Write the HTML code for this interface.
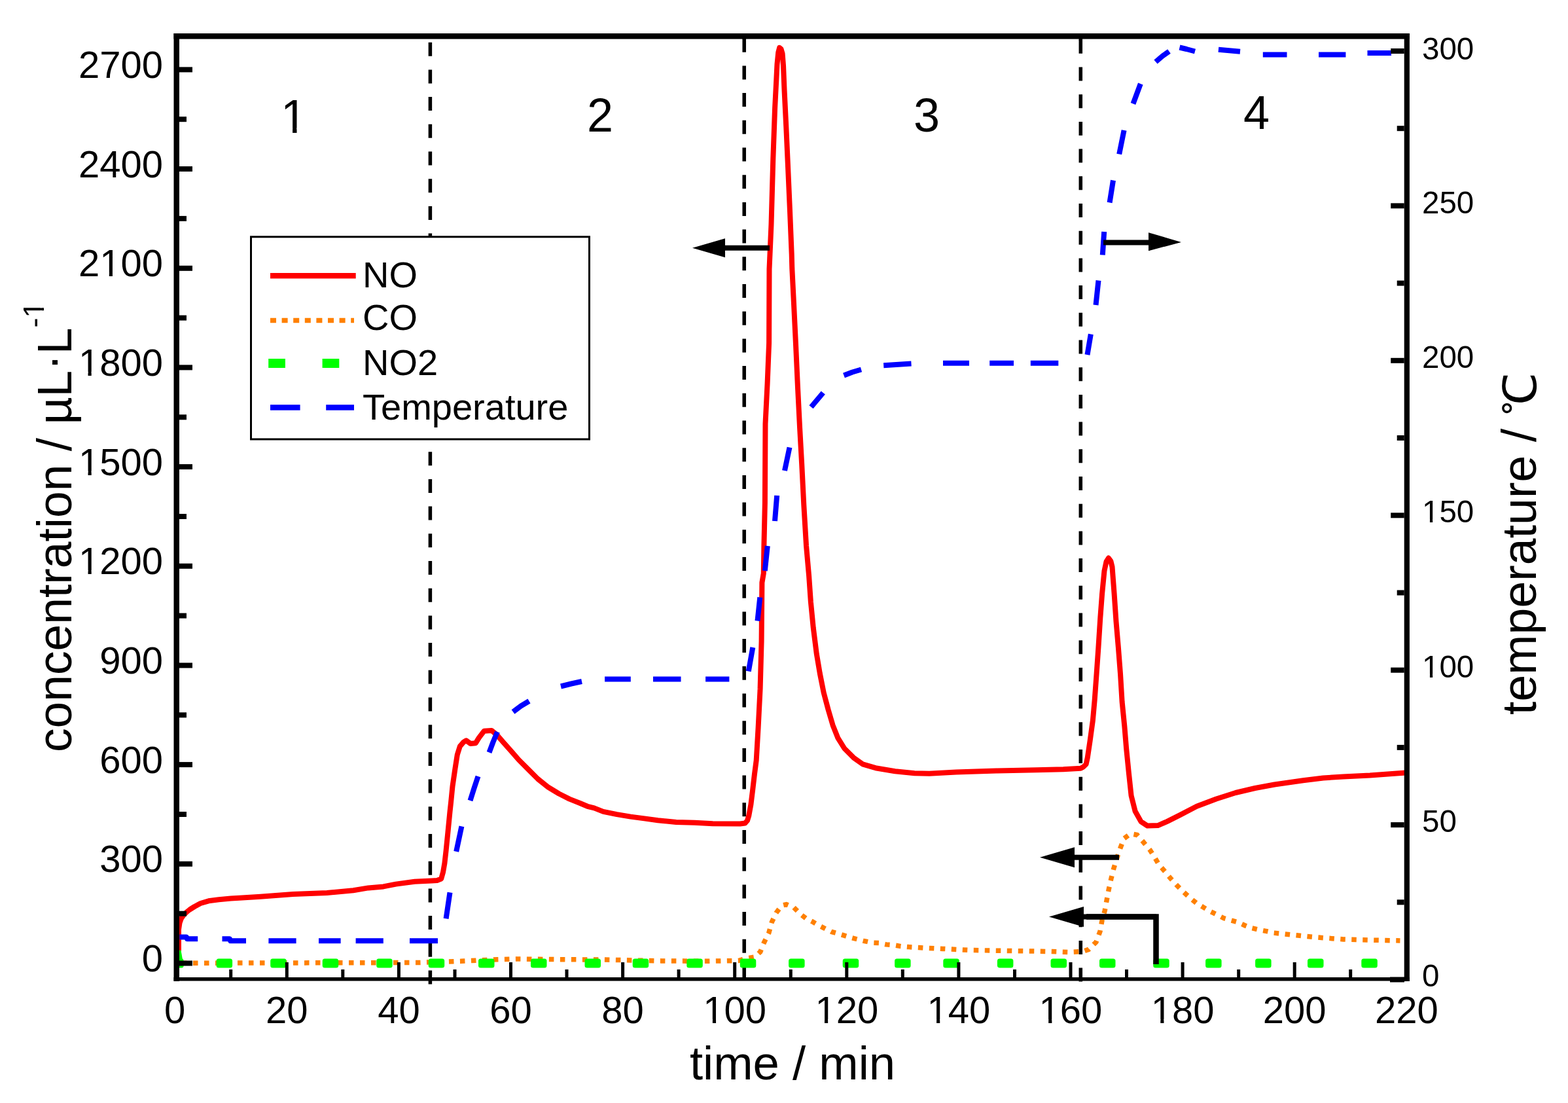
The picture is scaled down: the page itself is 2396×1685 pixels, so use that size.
<!DOCTYPE html><html><head><meta charset="utf-8"><title>NO CO NO2 temperature vs time</title>
<style>html,body{margin:0;padding:0;background:#fff;overflow:hidden}svg{display:block}text{font-family:'Liberation Sans', sans-serif;fill:#000}</style></head><body>
<svg width="2396" height="1685" viewBox="0 0 2396 1685">
<rect x="0" y="0" width="2396" height="1685" fill="#fff"/>
<line x1="657.4" y1="64.7" x2="657.4" y2="1504" stroke="#000" stroke-width="5.5" stroke-dasharray="21 20.7" stroke-dashoffset="0"/>
<line x1="1137.2" y1="58.7" x2="1137.2" y2="1504" stroke="#000" stroke-width="5.5" stroke-dasharray="21 20.7" stroke-dashoffset="0"/>
<line x1="1137.2" y1="56" x2="1137.2" y2="59.7" stroke="#000" stroke-width="5.5"/>
<line x1="1651.3" y1="60.8" x2="1651.3" y2="1504" stroke="#000" stroke-width="5.5" stroke-dasharray="21 20.7" stroke-dashoffset="0"/>
<line x1="1651.3" y1="56" x2="1651.3" y2="61.8" stroke="#000" stroke-width="5.5"/>
<polyline points="273.0,1453.0 273.0,1420.0 274.5,1410.0 277.0,1403.0 280.5,1398.0 285.0,1393.5 290.0,1389.5 297.2,1385.0 306.4,1380.0 318.8,1376.3 334.3,1374.2 352.9,1372.4 370.0,1371.5 398.0,1369.8 447.8,1366.0 499.6,1364.0 539.8,1360.2 562.8,1356.4 585.8,1354.4 605.0,1350.6 633.7,1346.8 660.0,1345.5 668.0,1345.0 674.2,1342.5 677.1,1332.1 679.4,1318.7 681.6,1299.4 684.6,1269.7 687.5,1240.0 689.1,1225.4 691.5,1201.2 695.5,1173.9 698.8,1152.9 702.8,1140.1 708.4,1133.6 712.4,1131.2 718.9,1136.0 726.9,1135.2 731.8,1127.2 739.8,1116.7 751.1,1115.9 759.1,1122.4 768.8,1133.6 781.7,1148.1 792.9,1161.0 809.0,1177.1 821.9,1190.0 838.0,1202.8 854.1,1212.5 870.2,1220.6 886.3,1227.0 897.6,1231.8 907.9,1234.4 921.8,1239.9 942.7,1244.1 963.6,1247.6 984.5,1250.4 1005.4,1253.2 1033.3,1256.0 1061.2,1256.7 1089.1,1258.3 1130.9,1258.5 1138.6,1257.5 1142.0,1253.5 1144.3,1246.0 1147.4,1229.0 1150.3,1205.5 1152.9,1183.0 1155.7,1161.4 1158.6,1111.8 1161.6,1052.4 1163.6,979.1 1164.4,890.0 1166.8,876.0 1167.4,833.3 1168.9,768.3 1169.5,647.6 1172.6,585.7 1175.1,523.8 1175.5,411.0 1178.5,343.0 1181.3,243.0 1184.1,165.0 1186.3,122.0 1187.5,98.0 1189.3,80.0 1191.2,72.8 1193.5,75.0 1195.6,82.0 1197.0,100.0 1198.5,137.0 1201.3,194.0 1204.1,256.0 1207.0,322.0 1209.7,388.0 1210.3,410.0 1212.9,461.9 1215.9,523.8 1219.0,591.9 1222.1,653.8 1225.2,709.5 1228.3,771.4 1232.0,833.3 1236.1,879.7 1238.9,919.6 1242.8,959.3 1247.8,998.9 1252.8,1028.6 1258.7,1058.3 1265.6,1084.1 1272.6,1107.9 1280.5,1127.7 1290.4,1143.5 1304.3,1157.4 1318.1,1167.3 1337.9,1173.2 1367.7,1178.2 1397.4,1181.2 1420.0,1181.8 1461.3,1179.6 1522.6,1177.6 1583.9,1176.2 1624.8,1175.3 1651.4,1173.8 1655.5,1171.5 1659.6,1167.5 1661.8,1157.4 1665.6,1131.8 1669.9,1100.5 1672.7,1069.1 1675.6,1029.3 1678.4,989.4 1681.3,943.9 1684.1,906.9 1687.5,872.0 1690.5,858.0 1694.0,852.5 1697.3,857.0 1699.5,866.0 1702.6,906.9 1705.5,949.6 1708.9,989.4 1712.0,1029.3 1714.6,1072.0 1718.3,1109.0 1721.1,1143.2 1724.8,1180.2 1728.6,1215.5 1734.6,1239.3 1743.5,1255.1 1753.4,1261.6 1769.3,1261.1 1783.1,1255.1 1803.0,1245.2 1828.7,1231.8 1858.5,1220.5 1888.2,1211.0 1917.9,1204.0 1947.6,1198.5 1991.3,1192.3 2021.9,1188.5 2052.5,1186.5 2093.4,1184.5 2134.2,1181.5 2148.0,1180.5" fill="none" stroke="#ff0000" stroke-width="8" stroke-linejoin="round"/>
<polyline points="278.0,1471.3 640.0,1470.5 705.3,1468.3 759.8,1465.7 792.4,1465.0 857.8,1465.7 923.1,1466.1 1010.2,1467.9 1075.5,1468.3 1128.4,1467.5 1142.3,1463.8 1153.4,1462.0 1161.8,1454.0 1167.4,1440.1 1174.8,1425.2 1179.4,1408.5 1186.0,1394.6 1194.3,1383.4 1201.7,1381.6 1212.9,1386.2 1223.1,1396.4 1231.5,1402.9 1240.8,1407.6 1250.0,1413.1 1259.3,1417.8 1270.5,1423.4 1283.5,1427.1 1298.3,1431.7 1308.6,1434.5 1319.7,1437.3 1332.7,1440.1 1342.9,1440.6 1354.1,1442.9 1366.1,1443.8 1376.4,1445.6 1388.4,1446.6 1403.3,1447.5 1415.4,1448.2 1440.9,1449.4 1481.8,1451.5 1543.1,1452.5 1604.4,1453.5 1635.0,1454.5 1655.0,1453.5 1663.6,1450.4 1674.9,1439.2 1681.0,1422.8 1684.1,1405.5 1688.2,1391.2 1691.2,1374.8 1694.3,1358.5 1697.9,1342.3 1701.9,1326.5 1706.8,1310.6 1711.8,1295.8 1717.7,1280.9 1727.7,1273.5 1737.6,1275.5 1747.5,1286.8 1757.4,1298.7 1764.3,1309.6 1771.3,1321.5 1780.2,1331.4 1789.1,1342.3 1798.0,1352.2 1807.9,1362.1 1818.8,1372.0 1828.7,1380.0 1838.6,1385.9 1848.5,1391.9 1858.5,1396.8 1870.3,1402.8 1880.2,1405.7 1891.2,1408.7 1902.1,1413.7 1912.0,1417.6 1924.8,1420.6 1935.7,1422.6 1946.6,1425.1 1981.1,1428.8 2011.7,1431.9 2052.5,1434.9 2093.4,1436.0 2139.4,1437.0" fill="none" stroke="#ff8000" stroke-width="7.5" stroke-dasharray="7.5 9.5"/>
<path d="M273,1452 L275.5,1466" stroke="#00ff00" stroke-width="7" fill="none"/>
<rect x="270" y="1464.4" width="10.5" height="14" rx="3" fill="#00ff00"/>
<rect x="330.6" y="1464.4" width="24.5" height="14" rx="3.5" fill="#00ff00"/>
<rect x="413.2" y="1464.4" width="24.5" height="14" rx="3.5" fill="#00ff00"/>
<rect x="492.7" y="1464.4" width="24.5" height="14" rx="3.5" fill="#00ff00"/>
<rect x="575.2" y="1464.4" width="24.5" height="14" rx="3.5" fill="#00ff00"/>
<rect x="654.7" y="1464.4" width="24.5" height="14" rx="3.5" fill="#00ff00"/>
<rect x="731.0" y="1464.4" width="24.5" height="14" rx="3.5" fill="#00ff00"/>
<rect x="811.0" y="1464.4" width="24.5" height="14" rx="3.5" fill="#00ff00"/>
<rect x="893.5" y="1464.4" width="24.5" height="14" rx="3.5" fill="#00ff00"/>
<rect x="966.7" y="1464.4" width="24.5" height="14" rx="3.5" fill="#00ff00"/>
<rect x="1049.3" y="1464.4" width="24.5" height="14" rx="3.5" fill="#00ff00"/>
<rect x="1130.8" y="1464.4" width="24.5" height="14" rx="3.5" fill="#00ff00"/>
<rect x="1205.1" y="1464.4" width="24.5" height="14" rx="3.5" fill="#00ff00"/>
<rect x="1287.7" y="1464.4" width="24.5" height="14" rx="3.5" fill="#00ff00"/>
<rect x="1367.1" y="1464.4" width="24.5" height="14" rx="3.5" fill="#00ff00"/>
<rect x="1441.3" y="1464.4" width="24.5" height="14" rx="3.5" fill="#00ff00"/>
<rect x="1523.9" y="1464.4" width="24.5" height="14" rx="3.5" fill="#00ff00"/>
<rect x="1605.5" y="1464.4" width="24.5" height="14" rx="3.5" fill="#00ff00"/>
<rect x="1680.0" y="1464.4" width="24.5" height="14" rx="3.5" fill="#00ff00"/>
<rect x="1762.2" y="1464.4" width="24.5" height="14" rx="3.5" fill="#00ff00"/>
<rect x="1842.1" y="1464.4" width="24.5" height="14" rx="3.5" fill="#00ff00"/>
<rect x="1918.1" y="1464.4" width="24.5" height="14" rx="3.5" fill="#00ff00"/>
<rect x="1998.0" y="1464.4" width="24.5" height="14" rx="3.5" fill="#00ff00"/>
<rect x="2080.3" y="1464.4" width="24.5" height="14" rx="3.5" fill="#00ff00"/>
<path d="M274.4,1431.5 L285.0,1431.5 L286.0,1434.3 L302.2,1434.3 M339.5,1434.3 L351.0,1434.3 L352.0,1437.2 L376.0,1437.2 M410.4,1437.2 L452.6,1437.3 M487.0,1437.3 L520.6,1437.3 M543.6,1437.3 L585.8,1437.3 M626.0,1437.3 L669.0,1437.3 M681.6,1403.4 L687.5,1363.3 M697.2,1300.9 L705.4,1262.3 M718.5,1223.0 L724.5,1204.0 L730.5,1186.0 M747.5,1149.5 L753.5,1133.5 L760.0,1118.0 M784.0,1087.5 L796.0,1078.5 L808.5,1071.0 M857.0,1048.5 L873.0,1044.5 L889.0,1041.0 M924.1,1037.6 L963.8,1037.4 M998.0,1037.4 L1040.5,1037.4 M1078.1,1037.4 L1114.4,1037.4 M1143.8,1025.5 L1150.3,989.0 M1157.5,948.5 L1161.3,912.5 M1168.8,872.0 L1172.8,834.0 M1184.0,796.0 L1187.2,757.0 M1199.0,719.0 L1206.5,683.5 M1239.5,621.8 L1257.8,600.0 M1289.5,573.5 L1302.5,568.5 L1316.0,564.5 M1350.2,558.2 L1392.5,555.6 M1441.0,554.8 L1481.0,554.8 M1512.2,554.8 L1549.0,554.8 M1574.8,554.8 L1617.3,554.8 M1661.5,542.0 L1666.8,510.5 M1674.5,466.0 L1678.5,428.5 M1684.8,389.5 L1687.2,354.0 M1695.6,309.5 L1701.0,275.5 M1710.2,235.5 L1717.6,199.0 M1731.5,158.5 L1742.8,128.0 M1766.0,94.5 L1776.5,85.5 L1786.5,78.5 M1802.5,72.5 L1813.0,75.0 L1826.0,78.5 M1861.9,75.8 L1895.0,78.8 M1929.8,83.5 L1966.5,83.5 M2015.0,83.5 L2056.4,83.5 M2089.5,81.1 L2126.0,81.1" fill="none" stroke="#0000ff" stroke-width="8" stroke-linejoin="round"/>
<line x1="1106" y1="378.8" x2="1176" y2="378.8" stroke="#000" stroke-width="8"/>
<polygon points="1058,378.8 1108,364.3 1108,393.3" fill="#000"/>
<line x1="1686" y1="370.4" x2="1757" y2="370.4" stroke="#000" stroke-width="8"/>
<polygon points="1805,370 1755,355.2 1755,383.2" fill="#000"/>
<line x1="1640" y1="1309.7" x2="1710" y2="1309.7" stroke="#000" stroke-width="8"/>
<polygon points="1589,1309.7 1642,1294.2 1642,1325.2" fill="#000"/>
<line x1="1654" y1="1400.5" x2="1767" y2="1400.5" stroke="#000" stroke-width="8"/>
<polygon points="1603,1400.5 1656,1385.0 1656,1416.0" fill="#000"/>
<polyline points="1660,1400.5 1766.5,1400.5 1766.5,1473" fill="none" stroke="#000" stroke-width="8.5"/>
<rect x="265.5" y="51" width="8.5" height="1448" fill="#000"/>
<rect x="265.5" y="51" width="1888.5" height="8.6" fill="#000"/>
<rect x="2145.7" y="51" width="8.2" height="1448" fill="#000"/>
<rect x="265.5" y="1493" width="1888.5" height="5.5" fill="#000"/>
<rect x="274" y="1467.5" width="20" height="8" fill="#000"/>
<rect x="274" y="1391.7" width="11" height="8" fill="#000"/>
<rect x="274" y="1315.8" width="20" height="8" fill="#000"/>
<rect x="274" y="1240.0" width="11" height="8" fill="#000"/>
<rect x="274" y="1164.1" width="20" height="8" fill="#000"/>
<rect x="274" y="1088.3" width="11" height="8" fill="#000"/>
<rect x="274" y="1012.5" width="20" height="8" fill="#000"/>
<rect x="274" y="936.6" width="11" height="8" fill="#000"/>
<rect x="274" y="860.8" width="20" height="8" fill="#000"/>
<rect x="274" y="785.0" width="11" height="8" fill="#000"/>
<rect x="274" y="709.1" width="20" height="8" fill="#000"/>
<rect x="274" y="633.3" width="11" height="8" fill="#000"/>
<rect x="274" y="557.4" width="20" height="8" fill="#000"/>
<rect x="274" y="481.6" width="11" height="8" fill="#000"/>
<rect x="274" y="405.8" width="20" height="8" fill="#000"/>
<rect x="274" y="329.9" width="11" height="8" fill="#000"/>
<rect x="274" y="254.1" width="20" height="8" fill="#000"/>
<rect x="274" y="178.2" width="11" height="8" fill="#000"/>
<rect x="274" y="102.4" width="20" height="8" fill="#000"/>
<rect x="2134.7" y="1374.3" width="11" height="8" fill="#000"/>
<rect x="2125.2" y="1256.1" width="20.5" height="8" fill="#000"/>
<rect x="2134.7" y="1137.9" width="11" height="8" fill="#000"/>
<rect x="2125.2" y="1019.7" width="20.5" height="8" fill="#000"/>
<rect x="2134.7" y="901.5" width="11" height="8" fill="#000"/>
<rect x="2125.2" y="783.3" width="20.5" height="8" fill="#000"/>
<rect x="2134.7" y="665.0" width="11" height="8" fill="#000"/>
<rect x="2125.2" y="546.8" width="20.5" height="8" fill="#000"/>
<rect x="2134.7" y="428.6" width="11" height="8" fill="#000"/>
<rect x="2125.2" y="310.4" width="20.5" height="8" fill="#000"/>
<rect x="2134.7" y="192.2" width="11" height="8" fill="#000"/>
<rect x="2125.2" y="74.0" width="20.5" height="8" fill="#000"/>
<rect x="2124" y="1492.5" width="22" height="8" fill="#000"/>
<rect x="350.2" y="1481" width="5" height="12" fill="#000"/>
<rect x="435.8" y="1470" width="5" height="23" fill="#000"/>
<rect x="521.3" y="1481" width="5" height="12" fill="#000"/>
<rect x="606.9" y="1470" width="5" height="23" fill="#000"/>
<rect x="692.5" y="1481" width="5" height="12" fill="#000"/>
<rect x="778.0" y="1470" width="5" height="23" fill="#000"/>
<rect x="863.5" y="1481" width="5" height="12" fill="#000"/>
<rect x="949.1" y="1470" width="5" height="23" fill="#000"/>
<rect x="1034.6" y="1481" width="5" height="12" fill="#000"/>
<rect x="1120.2" y="1470" width="5" height="23" fill="#000"/>
<rect x="1205.8" y="1481" width="5" height="12" fill="#000"/>
<rect x="1291.3" y="1470" width="5" height="23" fill="#000"/>
<rect x="1376.8" y="1481" width="5" height="12" fill="#000"/>
<rect x="1462.4" y="1470" width="5" height="23" fill="#000"/>
<rect x="1548.0" y="1481" width="5" height="12" fill="#000"/>
<rect x="1633.5" y="1470" width="5" height="23" fill="#000"/>
<rect x="1719.0" y="1481" width="5" height="12" fill="#000"/>
<rect x="1804.6" y="1470" width="5" height="23" fill="#000"/>
<rect x="1890.2" y="1481" width="5" height="12" fill="#000"/>
<rect x="1975.7" y="1470" width="5" height="23" fill="#000"/>
<rect x="2061.2" y="1481" width="5" height="12" fill="#000"/>
<text x="249" y="1484.0" font-size="58" text-anchor="end">0</text>
<text x="249" y="1332.3" font-size="58" text-anchor="end">300</text>
<text x="249" y="1180.6" font-size="58" text-anchor="end">600</text>
<text x="249" y="1029.0" font-size="58" text-anchor="end">900</text>
<text x="249" y="877.3" font-size="58" text-anchor="end">1200</text>
<text x="249" y="725.6" font-size="58" text-anchor="end">1500</text>
<text x="249" y="573.9" font-size="58" text-anchor="end">1800</text>
<text x="249" y="422.3" font-size="58" text-anchor="end">2100</text>
<text x="249" y="270.6" font-size="58" text-anchor="end">2400</text>
<text x="249" y="118.9" font-size="58" text-anchor="end">2700</text>
<text x="267.2" y="1563" font-size="58" text-anchor="middle">0</text>
<text x="438.3" y="1563" font-size="58" text-anchor="middle">20</text>
<text x="609.4" y="1563" font-size="58" text-anchor="middle">40</text>
<text x="780.5" y="1563" font-size="58" text-anchor="middle">60</text>
<text x="951.6" y="1563" font-size="58" text-anchor="middle">80</text>
<text x="1122.7" y="1563" font-size="58" text-anchor="middle">100</text>
<text x="1293.8" y="1563" font-size="58" text-anchor="middle">120</text>
<text x="1464.9" y="1563" font-size="58" text-anchor="middle">140</text>
<text x="1636.0" y="1563" font-size="58" text-anchor="middle">160</text>
<text x="1807.1" y="1563" font-size="58" text-anchor="middle">180</text>
<text x="1978.2" y="1563" font-size="58" text-anchor="middle">200</text>
<text x="2149.3" y="1563" font-size="58" text-anchor="middle">220</text>
<text x="2173" y="1506.6" font-size="47.5">0</text>
<text x="2173" y="1271.1" font-size="47.5">50</text>
<text x="2173" y="1034.7" font-size="47.5">100</text>
<text x="2173" y="798.3" font-size="47.5">150</text>
<text x="2173" y="561.7" font-size="47.5">200</text>
<text x="2173" y="326.4" font-size="47.5">250</text>
<text x="2173" y="90.9" font-size="47.5">300</text>
<text x="1211" y="1648.5" font-size="72.5" text-anchor="middle">time / min</text>
<text transform="translate(108.5,1149) rotate(-90)" font-size="73.2">concentration / µL<tspan dy="-5">·</tspan><tspan dy="5">L</tspan><tspan font-size="45" dy="-41.7">-1</tspan></text>
<text transform="translate(2346.5,1092) rotate(-90)" font-size="73.5">temperature / <tspan font-family="&apos;WenQuanYi Zen Hei&apos;, &apos;Noto Sans CJK SC&apos;, sans-serif" font-size="70">℃</tspan></text>
<text x="429" y="202.5" font-size="72">1</text>
<text x="897" y="201" font-size="72">2</text>
<text x="1396" y="201" font-size="72">3</text>
<text x="1900" y="196.6" font-size="72">4</text>
<g fill="#fff"><rect x="123.29" y="871.26" width="11.25" height="7.53"/><rect x="139.70" y="871.26" width="10.79" height="7.53"/><rect x="123.29" y="719.58" width="11.25" height="7.53"/><rect x="139.70" y="719.58" width="10.79" height="7.53"/><rect x="123.29" y="567.90" width="11.25" height="7.53"/><rect x="139.70" y="567.90" width="10.79" height="7.53"/><rect x="155.55" y="416.23" width="11.25" height="7.53"/><rect x="171.96" y="416.23" width="10.79" height="7.53"/><rect x="1077.63" y="1556.97" width="11.25" height="7.53"/><rect x="1094.05" y="1556.97" width="10.79" height="7.53"/><rect x="1248.73" y="1556.97" width="11.25" height="7.53"/><rect x="1265.15" y="1556.97" width="10.79" height="7.53"/><rect x="1419.83" y="1556.97" width="11.25" height="7.53"/><rect x="1436.25" y="1556.97" width="10.79" height="7.53"/><rect x="1590.93" y="1556.97" width="11.25" height="7.53"/><rect x="1607.35" y="1556.97" width="10.79" height="7.53"/><rect x="1762.03" y="1556.97" width="11.25" height="7.53"/><rect x="1778.45" y="1556.97" width="10.79" height="7.53"/><rect x="2175.52" y="1029.42" width="9.41" height="6.75"/><rect x="2189.16" y="1029.42" width="9.04" height="6.75"/><rect x="2175.52" y="793.01" width="9.41" height="6.75"/><rect x="2189.16" y="793.01" width="9.04" height="6.75"/><rect x="433.38" y="195.42" width="13.70" height="8.58"/><rect x="453.49" y="195.42" width="13.14" height="8.58"/></g>
<g fill="#fff" transform="translate(108.5,1149) rotate(-90)"><rect x="665.70" y="-46.76" width="8.97" height="6.56"/><rect x="678.69" y="-46.76" width="8.62" height="6.56"/></g>
<rect x="383.5" y="361.8" width="517" height="309.2" fill="#fff" stroke="#000" stroke-width="3"/>
<line x1="413" y1="421.3" x2="543.7" y2="421.3" stroke="#ff0000" stroke-width="8.4"/>
<line x1="413" y1="489.5" x2="541" y2="489.5" stroke="#ff8000" stroke-width="7.7" stroke-dasharray="9 8.6"/>
<line x1="410.2" y1="555" x2="520" y2="555" stroke="#00ff00" stroke-width="14" stroke-dasharray="25.7 56.7"/>
<line x1="413" y1="622.5" x2="541" y2="622.5" stroke="#0000ff" stroke-width="8.4" stroke-dasharray="45.6 39.6"/>
<text x="554" y="439.4" font-size="56">NO</text>
<text x="554" y="504" font-size="56">CO</text>
<text x="554" y="572.8" font-size="56">NO2</text>
<text x="554" y="640.6" font-size="56">Temperature</text>
</svg></body></html>
